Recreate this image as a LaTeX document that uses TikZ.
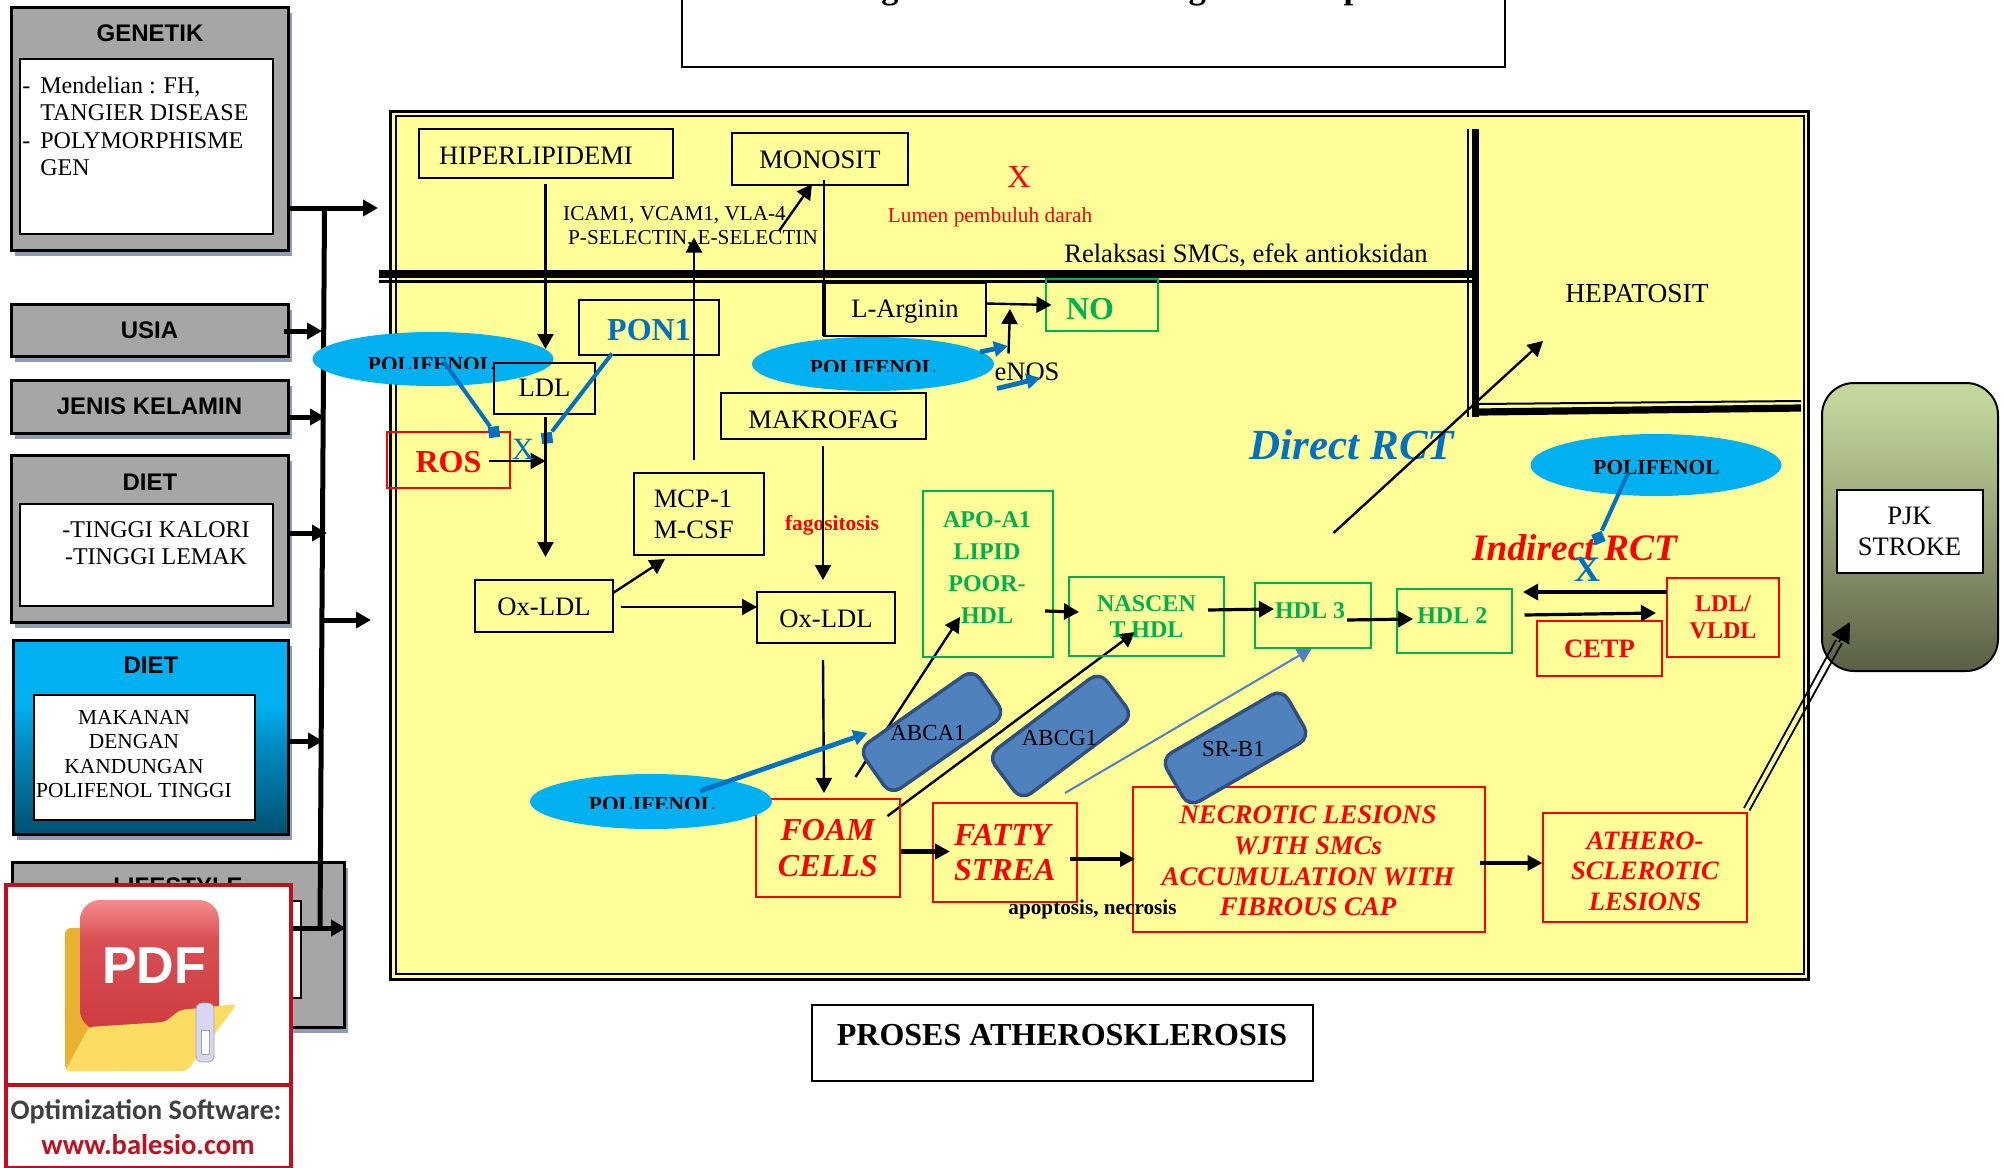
\documentclass[tikz,border=0pt]{standalone}
\usepackage{fontspec}
\setmainfont{Liberation Serif}
\setsansfont{Liberation Sans}
\newfontfamily\logofont{Carlito}
\usetikzlibrary{arrows.meta,shadows,shapes.geometric}
\definecolor{ylw}{HTML}{FFFF99}
\definecolor{grayb}{HTML}{A6A6A6}
\definecolor{shad}{HTML}{8E9DB3}
\definecolor{cyn}{HTML}{00B0F0}
\definecolor{blu}{HTML}{0070C0}
\definecolor{grn}{HTML}{00B050}
\definecolor{rbx}{HTML}{4F81BD}
\definecolor{rbd}{HTML}{2F4F7F}
\definecolor{lgr}{HTML}{C00F1E}
\definecolor{dA}{HTML}{005070}
\definecolor{dB}{HTML}{008CC3}
\definecolor{pA}{HTML}{596045}
\definecolor{pB}{HTML}{96A076}
\definecolor{pC}{HTML}{C3D69B}
\definecolor{fA}{HTML}{CD3C41}
\definecolor{fB}{HTML}{D94F54}
\definecolor{fC}{HTML}{F58C8C}
\pgfdeclareverticalshading{dietsh}{100bp}{color(0bp)=(dA);color(25bp)=(dA);color(48bp)=(dB);color(58bp)=(cyn);color(100bp)=(cyn)}
\pgfdeclareverticalshading{pjksh}{100bp}{color(0bp)=(pA);color(25bp)=(pA);color(50bp)=(pB);color(72bp)=(pC);color(100bp)=(pC)}
\pgfdeclareverticalshading{pdfsh}{100bp}{color(0bp)=(fA);color(25bp)=(fA);color(60bp)=(fB);color(75bp)=(fC);color(100bp)=(fC)}
% lower a one-line label in a centred box, or raise it
\newcommand{\dn}[2]{\setbox0\hbox{#2}\rule{0pt}{\dimexpr\ht0+#1pt+#1pt\relax}\box0}
\newcommand{\ups}[2]{\rule[-#1pt-#1pt]{0pt}{0pt}#2}
\renewcommand{\ups}[2]{\setbox0\hbox{#2}\rule[\dimexpr-#1pt-#1pt\relax]{0pt}{\dimexpr#1pt+#1pt\relax}\box0}
\tikzset{
 tr/.style 2 args={font=\fontsize{#1}{#2}\selectfont},
 bf/.style 2 args={font=\fontsize{#1}{#2}\selectfont\bfseries},
 bi/.style 2 args={font=\fontsize{#1}{#2}\selectfont\bfseries\itshape},
 sb/.style 2 args={font=\fontsize{#1}{#2}\selectfont\sffamily\bfseries},
 boxn/.style={draw,inner sep=0pt,align=center,line width=1pt},
 bk/.style={boxn,tr={13.3}{15.5}},
 redb/.style={boxn,draw=red,text=red},
 grnb/.style={boxn,draw=grn,text=grn,bf={12}{16}},
 gshadow/.style={general shadow={shadow xshift=2pt,shadow yshift=-3pt,fill=shad}},
 grayout/.style={boxn,fill=grayb,line width=1.5pt,gshadow},
 whitein/.style={boxn,fill=white,line width=1pt},
 txt/.style={inner sep=0pt,align=center},
 ell/.style={ellipse,fill=cyn,inner sep=0pt},
 pill/.style={rounded corners=6pt,draw=rbd,fill=rbx,line width=1.7pt,inner sep=0pt,minimum width=70pt,minimum height=28pt},
 sq/.style={fill=blu,inner sep=0pt,minimum size=5.5pt},
 arr/.style={line width=1.2pt,-{Triangle[length=7.5pt,width=8pt]}},
 arrb/.style={line width=1.6pt,-{Triangle[length=7.5pt,width=8pt]}},
 arrc/.style={line width=2.4pt,-{Triangle[length=7.5pt,width=7.5pt]}},
 bus/.style={line width=2.5pt,-{Triangle[length=7.5pt,width=8pt]}},
 inh/.style={line width=2pt,draw=blu},
 barr/.style={line width=2.4pt,draw=blu,-{Triangle[length=7pt,width=7.5pt]},blu},
}
\newcommand{\bx}[7][]{\node[boxn,#1,minimum width={(#5-#3)*0.5pt},minimum height={(#6-#4)*0.5pt}] (#2) at ({(#3+#5)/2},{(#4+#6)/2}) {#7};}
\begin{document}
\begin{tikzpicture}[x=0.5pt,y=-0.5pt]
\useasboundingbox (0,0) rectangle (2004,1168);
% frame of the main field
\bx[line width=1.5pt,fill=ylw,draw=black]{frameA}{390}{111}{1808}{979}{}
\bx[line width=1pt,fill=ylw,draw=black]{frameB}{395.5}{116}{1803.5}{973.5}{}
% title boxes
\bx{topbox}{682}{-20}{1505}{67}{}
\node[anchor=base,bf={17.3}{18},inner sep=0pt] (toptitle) at (1075,-1.5) {Kerangka Teori dan Kerangka Konsep};
\bx{prosesbox}{812}{1005}{1312.5}{1081}{}
\node[txt,bf={16}{18}] (proses) at (1062,1035) {PROSES ATHEROSKLEROSIS};
% membrane
\foreach \n/\x/\y in {mA/378.5/274,mB/1473/274,mC/378.5/281.5,mD/1473/281.5,mE/1475.5/129,mF/1475.5/417,mG/1468/129,mH/1468/417,mI/1479/412,mJ/1801/408,mK/1479/404,mL/1801/401}{\coordinate (\n) at (\x,\y);}
\draw[line width=3.6pt] (mA)--(mB);
\draw[line width=1.1pt] (mC)--(mD);
\draw[line width=3.6pt] (mE)--(mF);
\draw[line width=0.9pt] (mG)--(mH);
\draw[line width=3.6pt] (mI)--(mJ);
\draw[line width=1pt] (mK)--(mL);
% risk factor boxes
\bx[grayout]{genetik}{11}{7}{288}{250}{}
\bx[whitein]{genetikin}{20}{59}{273}{234}{}
\node[txt,sb={12}{14}] (genetikt) at (150,33) {GENETIK};
\node[inner sep=0pt,anchor=west,align=left,tr={12}{13.5}] (genetiktx) at (22,126) {\makebox[9pt][l]{-}Mendelian : FH,\\\hspace*{9pt}TANGIER DISEASE\\[0.6pt]\makebox[9pt][l]{-}POLYMORPHISME\\\hspace*{9pt}GEN};
\bx[grayout,sb={12}{14}]{usia}{11}{304}{288}{356}{USIA}
\bx[grayout,sb={12}{14}]{jk}{11}{380}{288}{433}{JENIS KELAMIN}
\bx[grayout]{diet}{11}{455}{288}{622}{}
\bx[whitein]{dietin}{20}{504}{273}{606}{}
\node[txt,sb={12}{14}] (diett) at (150,482) {DIET};
\node[txt,tr={12}{13.5}] (diettx) at (156,543.5) {-TINGGI KALORI\\-TINGGI LEMAK};
\bx[boxn,line width=1.5pt,shading=dietsh,gshadow]{dietb}{13}{640}{288}{834}{}
\bx[whitein]{dietbin}{34}{695}{255}{820}{}
\node[txt,sb={12}{14}] (dietbt) at (151,665) {DIET};
\node[txt,tr={10.7}{12.3}] (dietbtx) at (134,754) {MAKANAN\\DENGAN\\KANDUNGAN\\POLIFENOL TINGGI};
\bx[grayout]{life}{12.5}{862}{344}{1027}{}
\bx[whitein]{lifein}{40}{901}{301}{998}{}
\node[txt,sb={12}{14}] (lifet) at (178,886) {LIFESTYLE};
% bus
\foreach \n/\x/\y in {bT/324.5/208,bB/320/928,gO/288/208,gI/378/208,uO/284/331,uI/322/331,jO/287/417,jI/325/417,dO/287/533,dI/327/533,fS/323/620,fE/371/620,dbO/289/741,dbI/323/741,lO/292/928,lI/346/928}{\coordinate (\n) at (\x,\y);}
\draw[line width=2.5pt] (bT)--(bB);
\draw[bus] (gO)--(gI);
\draw[bus] (uO)--(uI);
\draw[bus] (jO)--(jI);
\draw[bus] (dO)--(dI);
\draw[bus] (fS)--(fE);
\draw[bus] (dbO)--(dbI);
\draw[bus] (lO)--(lI);
% connectors that run below the transporter shapes
\foreach \n/\x/\y in {abS/855.5/777,abE/960/617,agS/887.5/816,agE/1135/632,srS/1065/793,srE/1312/648}{\coordinate (\n) at (\x,\y);}
\draw[arr] (abS)--(abE);
\draw[arr] (agS)--(agE);
\draw[line width=1pt,draw=rbx,-{Triangle[length=7.5pt,width=8pt]},rbx] (srS)--(srE);
% boxes in the field
\bx[bk]{hiper}{419}{129}{673}{177.5}{\dn{1.25}{HIPERLIPIDEMI}\hspace*{10pt}}
\bx[bk]{mono}{732}{133}{908}{185}{\dn{0.6}{MONOSIT}}
\bx[bk]{larg}{824}{283}{986}{336}{\dn{1.25}{L-Arginin}}
\bx[bk]{makro}{721}{393}{926}{438.5}{\dn{1.8}{MAKROFAG}}
\bx[bk,align=left]{mcp}{634}{473}{763.5}{555}{MCP-1\\M-CSF\hspace*{5pt}}
\bx[bk]{oxa}{475}{580}{613}{632}{\dn{0.5}{Ox-LDL}}
\bx[bk]{oxb}{757}{592}{895}{643}{\dn{0.5}{Ox-LDL}}
\bx[boxn,text=blu,bf={16}{18}]{pon}{579}{300}{719}{355}{\dn{1.5}{PON1}}
\bx[redb,bf={16}{18}]{ros}{387}{432}{510}{487.5}{\dn{1.2}{ROS}}
\bx[grnb,bf={16}{18}]{no}{1046}{279}{1158}{331}{\dn{1.8}{NO}\hspace*{12pt}}
\bx[grnb]{apo}{923}{491}{1053}{657}{}
\node[txt,text=grn,bf={12}{16}] (apot) at (987,568) {APO-A1\\LIPID\\POOR-\\HDL};
\bx[grnb,bf={12}{13.25}]{nas}{1069}{577}{1224}{656}{NASCEN\\T HDL}
\bx[grnb]{hdlc}{1255}{583}{1371}{647.5}{\hspace*{-3pt}\ups{2.5}{HDL 3}}
\bx[grnb]{hdlb}{1396.5}{589}{1512}{653}{\hspace*{-2pt}\ups{2.5}{HDL 2}}
\bx[redb,bf={12}{13.5}]{vldl}{1667}{578}{1779}{657}{LDL/\\VLDL}
\bx[redb,bf={13.3}{15}]{cetp}{1537}{621}{1662}{676}{CETP}
\bx[redb,bi={16}{18}]{foam}{755.5}{799}{900}{897}{FOAM\\CELLS}
\bx[redb,bi={16}{17.5},align=left]{fatty}{932.5}{803}{1077}{902}{FATTY\\STREA}
\bx[redb]{necro}{1133}{787}{1485}{931.5}{}
\node[txt,text=red,bi={13.4}{15.3}] (necrot) at (1308,861) {NECROTIC LESIONS\\WJTH SMCs\\ACCUMULATION WITH\\FIBROUS CAP};
\bx[redb]{athero}{1543}{813}{1747}{922}{}
\node[txt,text=red,bi={13.3}{15.25}] (atherot) at (1645,871) {ATHERO-\\SCLEROTIC\\LESIONS};
% PJK
\bx[boxn,rounded corners=16pt,shading=pjksh]{pjk}{1822}{383}{1998}{671}{}
\bx[whitein,tr={13.3}{15.5}]{pjkin}{1836.5}{490}{1982.5}{572.5}{PJK\\STROKE}
% free texts
\node[txt,tr={10.6}{12.1}] (icam) at (693,227) {\hspace*{-18.5pt}ICAM1, VCAM1, VLA-4\\P-SELECTIN, E-SELECTIN};
\node[txt,tr={16}{18},text=red] (xr) at (1019,177) {X};
\node[txt,tr={10.7}{13},text=red] (lumen) at (990,217) {Lumen pembuluh darah};
\node[txt,tr={13.3}{15}] (relak) at (1246,255) {Relaksasi SMCs, efek antioksidan};
\node[txt,tr={13.7}{15}] (hepa) at (1637,294) {HEPATOSIT};
\node[txt,tr={13.3}{15}] (enos) at (1027,372) {eNOS};
\node[txt,bf={10.7}{12},text=red] (fago) at (832,525) {fagositosis};
\node[txt,bf={10.6}{12}] (apop) at (1092.5,909) {apoptosis, necrosis};
\node[txt,bi={21.5}{23},text=blu] (direct) at (1352,445) {Direct RCT};
\node[txt,bi={18.7}{20},text=red] (indirect) at (1574.5,548) {Indirect RCT};
% ellipses
\node[ell,minimum width=120.5pt,minimum height=27pt] (polA) at (433,359) {};
\node[ell,minimum width=121pt,minimum height=27pt] (polB) at (873,364) {};
\node[ell,minimum width=121pt,minimum height=27.5pt] (polC) at (651,801.5) {};
\node[ell,minimum width=125.5pt,minimum height=31pt] (polD) at (1656,465) {};
\bx[bk]{ldl}{494}{362.5}{595}{413.5}{LDL}
\begin{scope}
\clip (300,340) rectangle (494,368);
\node[txt,bf={10.7}{12}] (polAt) at (431,365) {POLIFENOL};
\end{scope}
\begin{scope}
\clip (760,345) rectangle (990,371.5);
\node[txt,bf={10.7}{12}] (polBt) at (873,368) {POLIFENOL};
\end{scope}
\begin{scope}
\clip (530,785) rectangle (770,808.5);
\node[txt,bf={10.7}{12}] (polCt) at (652,805) {POLIFENOL};
\end{scope}
\node[txt,bf={10.7}{12}] (polDt) at (1656.5,467.5) {POLIFENOL};
% transporters
\node[pill,rotate=35] (abca) at (932,732) {};
\node[pill,rotate=37] (abcg) at (1060.5,736) {};
\node[pill,rotate=30] (srb) at (1235.5,748) {};
\node[txt,tr={11.5}{13}] (abcat) at (928,732.5) {ABCA1};
\node[txt,tr={11.5}{13}] (abcgt) at (1059.5,738) {ABCG1};
\node[txt,tr={11.5}{13}] (srbt) at (1233.5,749) {SR-B1};
% connectors in the field
\foreach \n/\x/\y in {
 hO/545.5/184,lI/545.5/349,lO/545.5/417,xO/545.5/557,rO/489/461,rI/545.5/461,
 mcO/694/460,mcI/694/237.5,iO/779/231,iI/812/184,moO/824/180,moM/824/283,moE/824/336,
 laO/986/303.5,noI/1051.5/305,enO/1008.5/353.5,enI/1010/309,
 oaT/613/593,oaE/665/559,oaR/621/607,obI/757/607,
 maO/823/446,maE/823/580,obO/823/660,foI/824/793,
 foO/901/851.5,faI/950/851.5,faO/1070/859,neI/1135/859,neO/1480/863,atI/1542.5/863,
 apO/1045/611,naI/1079/612,naO/1208/610,h3I/1274/609,h3O/1347/620,h2I/1413/619,
 vlO/1667/592,vlE/1523/592,vlS/1524.5/615,vlI/1656/613,
 drS/1333.5/533,drE/1543/341,
 pa/444/362,pb/612/353.5,pc/1628/473,
 ba/980/352,baE/1008/346,bb/997/388.5,bbE/1040.5/378,bc/700/791,bcE/867.5/733,
 dA/1744/808,dB/1836/640,dC/1749.5/810.5,dD/1842/643,dE/1839/642,dF/1850/622}{\coordinate (\n) at (\x,\y);}
\node[sq,rotate=8] (sqA) at (494,432) {};
\node[sq,rotate=8] (sqB) at (547,438) {};
\node[sq,rotate=22] (sqC) at (1598.5,538) {};
\draw[arr] (hO)--(lI);
\draw[arr] (lO)--(xO);
\draw[arr] (rO)--(rI);
\draw[arr] (mcO)--(mcI);
\draw[arr] (iO)--(iI);
\draw[line width=1.2pt] (moO)--(moM);
\draw[line width=2pt] (moM)--(moE);
\draw[arr] (laO)--(noI);
\draw[arr] (enO)--(enI);
\draw[arr] (oaT)--(oaE);
\draw[arr] (oaR)--(obI);
\draw[arr] (maO)--(maE);
\draw[arr] (obO)--(foI);
\draw[arrc] (foO)--(faI);
\draw[arrc] (faO)--(neI);
\draw[arrc] (neO)--(atI);
\draw[arrb] (apO)--(naI);
\draw[arrb] (naO)--(h3I);
\draw[arrb] (h3O)--(h2I);
\draw[arrb] (vlO)--(vlE);
\draw[arrb] (vlS)--(vlI);
\draw[arr] (drS)--(drE);
\draw[inh] (pa)--(sqA);
\draw[inh] (pb)--(sqB);
\draw[inh] (pc)--(sqC);
\draw[barr] (ba)--(baE);
\draw[barr] (bb)--(bbE);
\draw[barr] (bc)--(bcE);
\draw[line width=0.9pt] (dA)--(dB);
\draw[line width=0.9pt] (dC)--(dD);
\draw[line width=0.9pt,-{Triangle[length=10pt,width=10pt]}] (dE)--(dF);
\node[txt,tr={15.5}{17},text=blu] (xa) at (523,449) {X};
\node[txt,bf={18}{20},text=blu] (xb) at (1587,570) {X};
% software logo
\bx[fill=white,draw=lgr,line width=1.6pt]{logo}{6}{885}{291}{1168}{}
\coordinate (logoL) at (6,1085);
\coordinate (logoR) at (291,1085);
\draw[lgr,line width=1.6pt] (logoL)--(logoR);
\fill[rounded corners=3pt,fill=orange!45!yellow!60!brown!90!white] (65,928) rectangle (120,1071);
\bx[draw=none,shading=pdfsh,rounded corners=10pt]{pdfdoc}{80}{900}{219}{1030}{}
\node[txt,text=white,sb={26}{28}] (pdft) at (154,966) {PDF};
\fill[rounded corners=2pt,fill=yellow!60!orange!60!white] (89,1027) -- (165,1022) -- (180,1010) -- (237,1004) -- (187,1071) -- (65,1071) -- cycle;
\fill[rounded corners=3pt,fill=gray!45!blue!20!white,draw=gray!70] (196,1003) rectangle (214,1062);
\fill[fill=white,draw=gray!70] (201,1030) rectangle (209,1054);
\node[txt,font=\fontsize{14.1}{16}\selectfont\logofont\bfseries,text=black!75] (logot) at (146,1112) {Optimization Software:};
\node[txt,font=\fontsize{14.3}{16}\selectfont\logofont\bfseries,text=lgr] (logou) at (148,1145) {www.balesio.com};
\end{tikzpicture}
\end{document}
